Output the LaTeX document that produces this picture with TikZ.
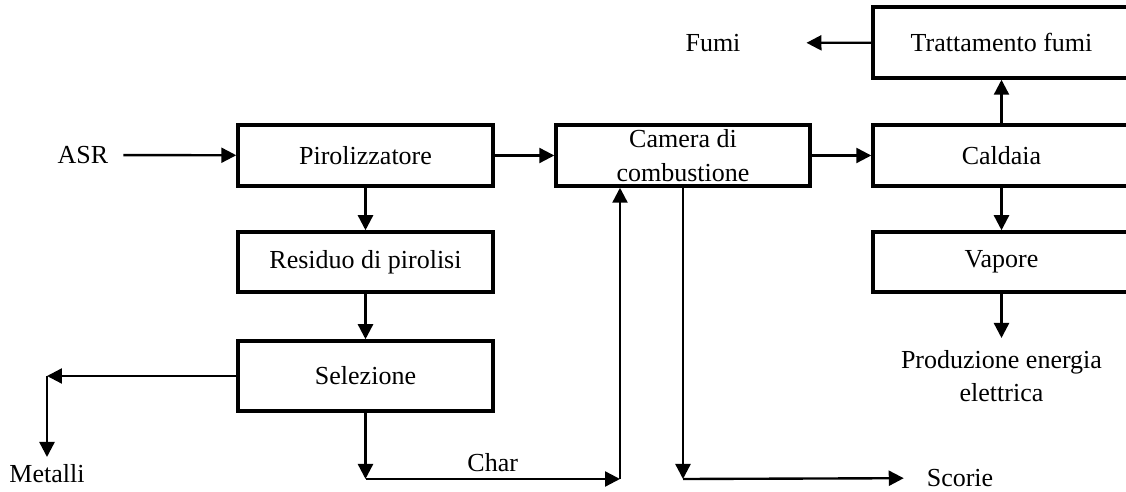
\documentclass[tikz,border=0pt]{standalone}
\usepackage{fontspec}
\setmainfont{Liberation Serif}
\usetikzlibrary{arrows.meta}

\begin{document}
\begin{tikzpicture}[x=0.02cm,y=-0.02cm,line width=1.35pt,
  font=\fontsize{14.8}{19}\selectfont,
  >={Triangle[length=0.3cm,width=0.3cm]},
  box/.style={draw,line width=2pt,minimum width=5.1cm,minimum height=1.22cm,align=center}]
  \useasboundingbox (0,0) rectangle (1126,492);
  % blocchi
  \node[box] (piro) at (365.5,155.5) {Pirolizzatore};
  \node[box,minimum height=1.2cm] (res) at (365.5,262) {Residuo di pirolisi};
  \node[box,minimum height=1.4cm] (sel) at (365.5,376) {Selezione};
  \node[box,minimum width=5.08cm,inner ysep=0pt] (cam) at (683,155.5) {Camera di\\combustione};
  \node[box,minimum width=5.14cm] (cald) at (1001.5,155.5) {Caldaia};
  \node[box,minimum width=5.14cm,minimum height=1.42cm] (tratt) at (1001.5,42.5) {Trattamento fumi};
  \node[box,minimum width=5.14cm,minimum height=1.2cm] (vap) at (1001.5,262) {Vapore};
  % ingressi e uscite
  \node (asr) at (83,155) {ASR};
  \node (fumi) at (713,43) {Fumi};
  \node[anchor=north,align=center] (prod) at (1001.5,343) {Produzione energia\\elettrica};
  \node[anchor=north] (metalli) at (47,457) {Metalli};
  \node (scorie) at (960,478) {Scorie};
  \coordinate (met) at (47,376);
  \coordinate (chA) at (365.5,479);
  \coordinate (chB) at (620,479);
  \coordinate (sco) at (683,479);
  \draw[->,shorten <=0.16cm] (asr) -- (piro);
  \draw[->] (piro) -- (cam);
  \draw[->] (cam) -- (cald);
  \draw[->] (cald) -- (tratt);
  \draw[->,shorten >=1.18cm] (tratt) -- (fumi);
  \draw[->] (cald) -- (vap);
  \draw[->,shorten >=0.1cm] (vap) -- (prod);
  \draw[->] (piro) -- (res);
  \draw[->] (res) -- (sel);
  \draw[->] (sel) -- (met);
  \draw[->] (met) -- (metalli);
  \draw[->] (sel) -- (chA);
  \draw[->] (chA) -- (chB) node[pos=0.5,above]{Char};
  \draw[->] (chB) -- (chB |- cam.south);
  \draw[->] (cam) -- (sco);
  \draw[->,shorten >=0.32cm] (sco) -- (scorie);
\end{tikzpicture}
\end{document}
